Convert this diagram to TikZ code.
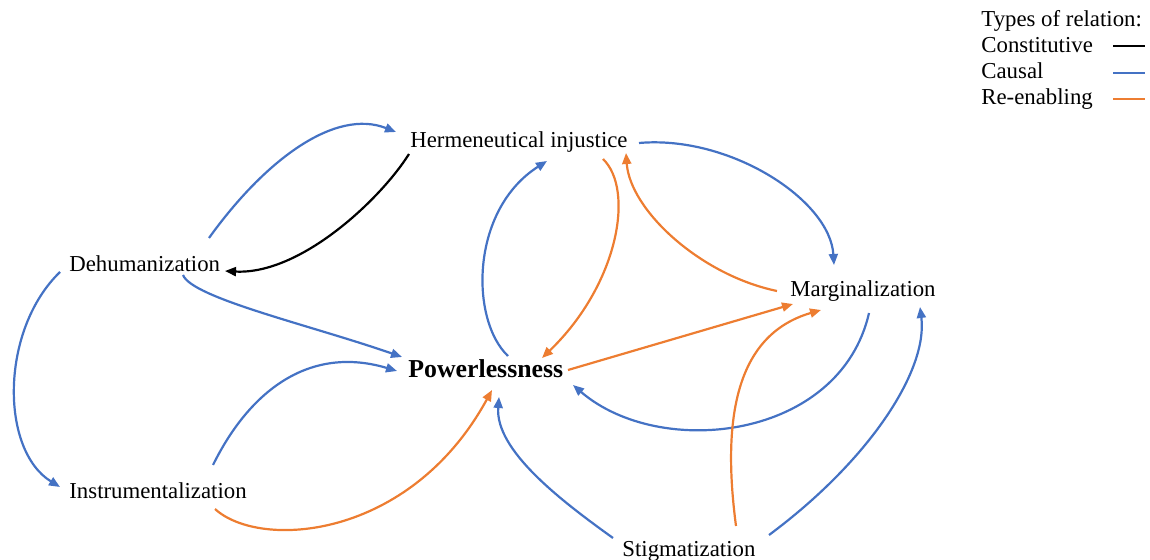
\documentclass[tikz,border=0pt]{standalone}
\usepackage{fontspec}
\setmainfont{Liberation Serif}
\usetikzlibrary{arrows.meta}
\definecolor{causalblue}{HTML}{4472C4}
\definecolor{reorange}{HTML}{ED7D31}
\begin{document}
\begin{tikzpicture}[x=0.5pt,y=-0.5pt,
  concept/.style={inner sep=0pt,anchor=base west,font=\fontsize{11.4}{13}\selectfont},
  keytext/.style={concept},
  rel/.style={line width=1.1pt,-{Triangle[length=5.5pt,width=4.5pt]}},
  constitutive/.style={rel,black},
  causal/.style={rel,causalblue},
  reenabling/.style={rel,reorange},
  keyline/.style={line width=1.1pt}]
\useasboundingbox (0,0) rectangle (1150,560);

% concepts
\node[concept] (herm)  at (410,148) {Hermeneutical injustice};
\node[concept] (dehum) at (69,272)  {Dehumanization};
\node[concept] (instr) at (69,498)  {Instrumentalization};
\node[concept,font=\fontsize{12.9}{15}\selectfont\bfseries] (power) at (408,378) {Powerlessness};
\node[concept] (marg)  at (790,297) {Marginalization};
\node[concept] (stig)  at (622,556) {Stigmatization};

% key
\node[keytext] (keytitle) at (981,27)  {Types of relation:};
\node[keytext] (keycon)   at (981,53)  {Constitutive};
\node[keytext] (keycau)   at (981,79)  {Causal};
\node[keytext] (keyre)    at (981,105) {Re-enabling};
\draw[keyline,black]      ([shift={(132,-7)}]keycon.base west) -- ++(32,0);
\draw[keyline,causalblue] ([shift={(132,-6)}]keycau.base west) -- ++(32,0);
\draw[keyline,reorange]   ([shift={(132,-6)}]keyre.base west) -- ++(32,0);

% constitutive relation
\draw[constitutive] ([shift={(-1,6)}]herm.base west)
  .. controls (380,200) and (300,275) .. ([shift={(156,-1)}]dehum.base west);

% causal relations
\draw[causal] ([shift={(140,-34)}]dehum.base west)
  .. controls (265,160) and (335,108) .. ([shift={(-14,-16)}]herm.base west);
\draw[causal] ([shift={(-9,0)}]dehum.base west)
  .. controls (0,330) and (0,450) .. ([shift={(-9,-11)}]instr.base west);
\draw[causal] ([shift={(114,3)}]dehum.base west)
  .. controls (192,298) and (310,325) .. ([shift={(-6,-21)}]power.base west);
\draw[causal] ([shift={(144,-33)}]instr.base west)
  .. controls (250,390) and (310,345) .. ([shift={(-11,-7)}]power.base west);
\draw[causal] ([shift={(100,-22)}]power.base west)
  .. controls (470,320) and (470,210) .. ([shift={(137,13)}]herm.base west);
\draw[causal] ([shift={(229,-5)}]herm.base west)
  .. controls (730,135) and (830,200) .. ([shift={(44,-32)}]marg.base west);
\draw[causal] ([shift={(79,16)}]marg.base west)
  .. controls (840,440) and (660,460) .. ([shift={(165,7)}]power.base west);
\draw[causal] ([shift={(147,-21)}]stig.base west)
  .. controls (870,460) and (928,370) .. ([shift={(130,10)}]marg.base west);
\draw[causal] ([shift={(-9,-18)}]stig.base west)
  .. controls (560,500) and (495,450) .. ([shift={(91,19)}]power.base west);

% re-enabling relations
\draw[reenabling] ([shift={(146,11)}]instr.base west)
  .. controls (260,550) and (410,540) .. ([shift={(84,12)}]power.base west);
\draw[reenabling] ([shift={(193,11)}]herm.base west)
  .. controls (635,190) and (618,285) .. ([shift={(134,-20)}]power.base west);
\draw[reenabling] ([shift={(-13,-6)}]marg.base west)
  .. controls (700,275) and (630,210) .. ([shift={(216,5)}]herm.base west);
\draw[reenabling] ([shift={(160,-8)}]power.base west) -- ([shift={(3,7)}]marg.base west);
\draw[reenabling] ([shift={(114,-30)}]stig.base west)
  .. controls (722,420) and (735,335) .. ([shift={(31,13)}]marg.base west);
\end{tikzpicture}
\end{document}
